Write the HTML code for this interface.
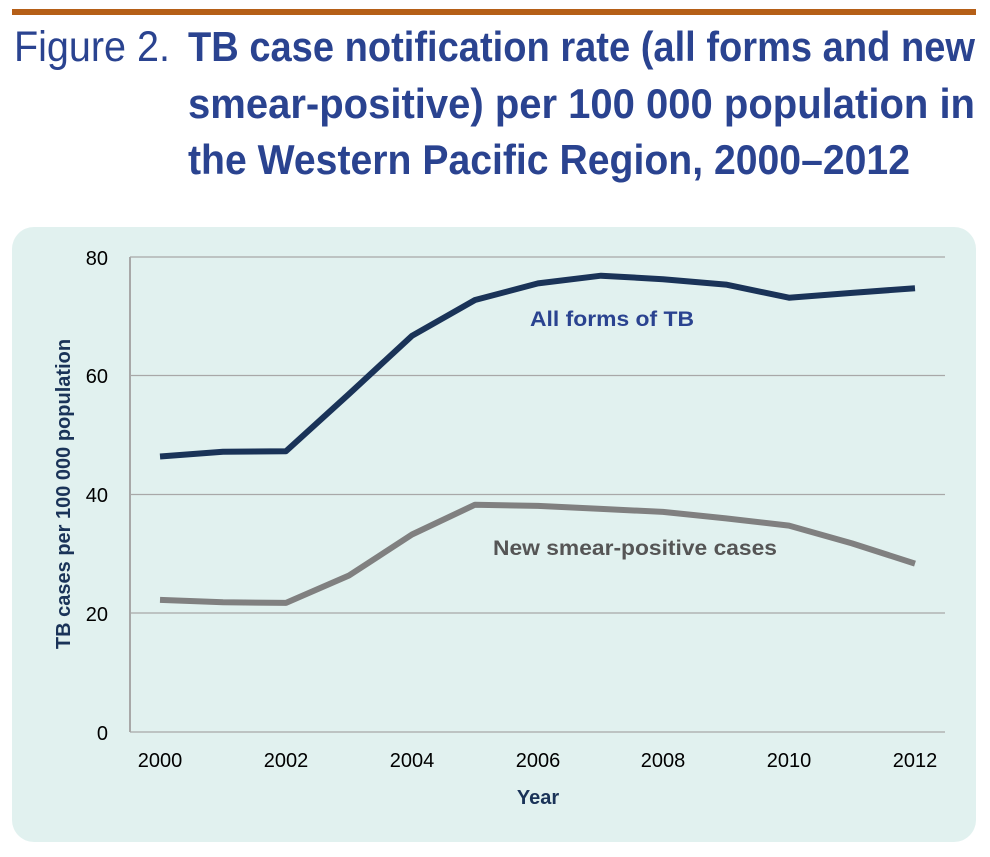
<!DOCTYPE html>
<html><head><meta charset="utf-8"><style>
html,body{margin:0;padding:0;background:#fff;}
svg{display:block;}
text{font-family:"Liberation Sans",sans-serif;}
</style></head><body>
<svg width="990" height="857" viewBox="0 0 990 857">
<rect x="12" y="9" width="964" height="6" fill="#b55f17"/>
<g fill="#2a4390">
<text x="14" y="61" font-size="43" textLength="156" lengthAdjust="spacingAndGlyphs">Figure 2.</text>
<text x="188" y="61" font-size="42" font-weight="bold" textLength="787" lengthAdjust="spacingAndGlyphs">TB case notification rate (all forms and new</text>
<text x="188" y="118" font-size="42" font-weight="bold" textLength="787" lengthAdjust="spacingAndGlyphs">smear-positive) per 100 000 population in</text>
<text x="188" y="174" font-size="42" font-weight="bold" textLength="722" lengthAdjust="spacingAndGlyphs">the Western Pacific Region, 2000–2012</text>
</g>
<rect x="12" y="227" width="964" height="615" rx="22" fill="#e1f1ef"/>
<g stroke="#a8a8a8" stroke-width="1.2">
<line x1="130" y1="257" x2="945" y2="257"/>
<line x1="130" y1="375.5" x2="945" y2="375.5"/>
<line x1="130" y1="494.5" x2="945" y2="494.5"/>
<line x1="130" y1="613" x2="945" y2="613"/>
<line x1="130" y1="732" x2="945" y2="732"/>
<line x1="130" y1="257" x2="130" y2="732" stroke-width="2"/>
</g>
<g font-size="20" fill="#000" text-anchor="end">
<text x="108" y="265">80</text><text x="108" y="383">60</text><text x="108" y="502">40</text><text x="108" y="621">20</text><text x="108" y="740">0</text>
</g>
<g font-size="20" fill="#000" text-anchor="middle">
<text x="160" y="767">2000</text><text x="286" y="767">2002</text><text x="412" y="767">2004</text><text x="538" y="767">2006</text><text x="663" y="767">2008</text><text x="789" y="767">2010</text><text x="915" y="767">2012</text>
</g>
<text x="538" y="804" font-size="20" font-weight="bold" fill="#1a3358" text-anchor="middle">Year</text>
<text transform="translate(70,494) rotate(-90)" font-size="20" font-weight="bold" fill="#1a3358" text-anchor="middle">TB cases per 100 000 population</text>
<polyline fill="none" stroke="#1a3358" stroke-width="6" stroke-linejoin="round" points="160,456.5 223,451.7 286,451.2 349,394 412,335.8 475,300 538,283.4 601,275.7 663,279.2 726,284.6 789,297.7 852,292.9 915,288.2"/>
<polyline fill="none" stroke="#808080" stroke-width="6" stroke-linejoin="round" points="160,599.9 223,602.3 286,602.9 349,575.5 412,534.5 475,504.7 538,505.9 601,508.9 663,511.9 726,518.4 789,525.6 852,543.4 915,563.6"/>
<text x="530" y="326" font-size="21" font-weight="bold" fill="#2a4390" textLength="164" lengthAdjust="spacingAndGlyphs">All forms of TB</text>
<text x="493" y="555" font-size="21" font-weight="bold" fill="#555" textLength="284" lengthAdjust="spacingAndGlyphs">New smear-positive cases</text>
</svg>
</body></html>
